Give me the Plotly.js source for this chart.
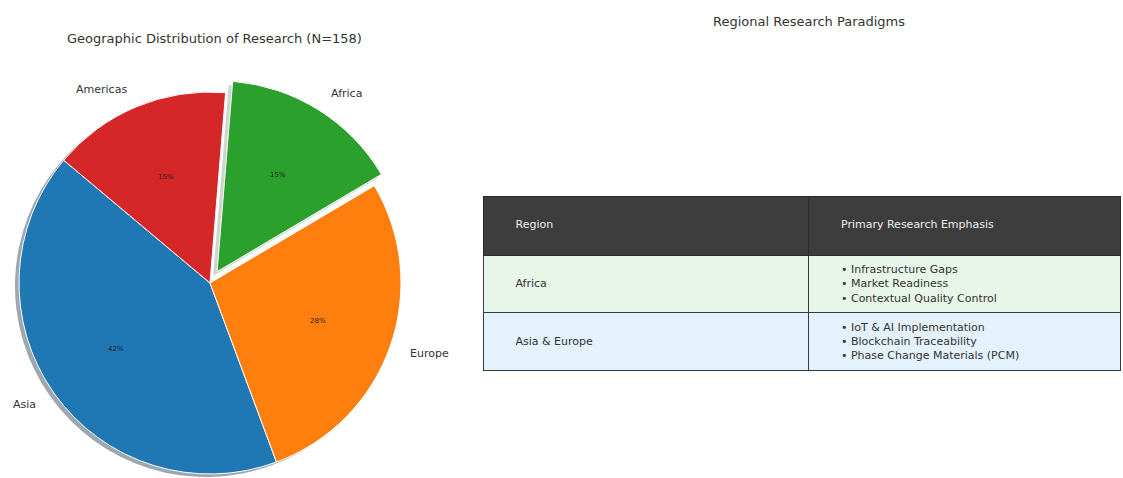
<!DOCTYPE html>
<html>
<head>
<meta charset="utf-8">
<script src="https://cdn.plot.ly/plotly-3.0.1.min.js"></script>
<style>html,body{margin:0;padding:0;background:#fff;}#chart{width:1123px;height:478px;}</style>
</head>
<body>
<div id="chart"></div>
<script>
// ---- data ----
const regions = ['Asia', 'Europe', 'Africa', 'Americas'];
const studies = [66, 44, 24, 24];
const sliceColors = ['#1f77b4', '#ff7f0e', '#2ca02c', '#d62728'];
const explodedRegion = 'Africa';
const pieTitle = 'Geographic Distribution of Research (N=158)';
const tableTitle = 'Regional Research Paradigms';
const tableHeaders = ['Region', 'Primary Research Emphasis'];
const tableRegions = ['Africa', 'Asia & Europe'];
const africaEmphasis = ['Infrastructure Gaps', 'Market Readiness', 'Contextual Quality Control'];
const asiaEuropeEmphasis = ['IoT & AI Implementation', 'Blockchain Traceability', 'Phase Change Materials (PCM)'];
const rowFills = ['#e8f5e9', '#e3f2fd'];

// ---- geometry ----
const W = 1123, H = 478;
const CX = 210, CY = 283, R = 191;
const START = 140;          // degrees CCW from 3 o'clock
const PULL = 0.07;
const SH = 4;               // shadow offset px
const FONT = 'DejaVu Sans, sans-serif';

const total = studies.reduce((a, b) => a + b, 0);
const mids = [];
let cum = 0;
studies.forEach(v => { mids.push(START + 360 * (cum + v / 2) / total); cum += v; });
const exIdx = regions.indexOf(explodedRegion);
const exMid = mids[exIdx] * Math.PI / 180;
const exDx = PULL * R * Math.cos(exMid), exDy = -PULL * R * Math.sin(exMid);
let rot = 90 - START - 360 * studies[0] / total;
while (rot < -360) rot += 360;
while (rot > 360) rot -= 360;

function dom(cx, cy) {
  return { x: [(cx - R) / W, (cx + R) / W], y: [Math.max(0, 1 - (cy + R) / H), 1 - (cy - R) / H] };
}
function shadowCol(hex, alpha) {
  const n = parseInt(hex.slice(1), 16);
  return 'rgba(' + Math.round(0.3 * (n >> 16)) + ',' + Math.round(0.3 * ((n >> 8) & 255)) + ',' + Math.round(0.3 * (n & 255)) + ',' + alpha + ')';
}
const T = 'rgba(0,0,0,0)';
function pieTrace(colors, lineW, d) {
  return {
    type: 'pie', labels: regions, values: studies, sort: false,
    direction: 'counterclockwise', rotation: rot,
    marker: { colors: colors, line: { color: '#ffffff', width: lineW } },
    textinfo: 'none', hoverinfo: 'label+percent', showlegend: false, domain: d
  };
}
const shadowMain = sliceColors.map((c, i) => i === exIdx ? T : shadowCol(c, 0.4));
const shadowEx = sliceColors.map((c, i) => i === exIdx ? shadowCol(c, 0.2) : T);
const colMain = sliceColors.map((c, i) => i === exIdx ? T : c);
const colEx = sliceColors.map((c, i) => i === exIdx ? c : T);
const lwMain = sliceColors.map((c, i) => i === exIdx ? 0 : 1);
const lwEx = sliceColors.map((c, i) => i === exIdx ? 1 : 0);

const traces = [
  pieTrace(shadowMain, 0, dom(CX - SH, CY + SH - 1)),
  pieTrace(shadowEx, 0, dom(CX - SH + exDx, CY + SH + exDy)),
  pieTrace(colMain, lwMain, dom(CX, CY)),
  pieTrace(colEx, lwEx, dom(CX + exDx, CY + exDy))
];

// ---- table ----
const NB = '\u00a0';
const PAD = NB.repeat(7);
function cellText(lines) {
  return lines.length === 1 ? NB + '<br>' + PAD + lines[0] : lines.map(l => PAD + '• ' + l).join('<br>');
}
traces.push({
  type: 'table',
  domain: { x: [483 / W, 1121 / W], y: [0, 1 - 196 / H] },
  columnwidth: [326, 312],
  header: {
    values: tableHeaders.map(h => [NB + '<br>' + PAD + h]),
    height: 59, align: 'left',
    fill: { color: '#3d3d3d' },
    line: { color: '#2b2b2b', width: 1 },
    font: { family: FONT, size: 11, color: '#eeeeee' }
  },
  cells: {
    values: [tableRegions.map(r => cellText([r])), [cellText(africaEmphasis), cellText(asiaEuropeEmphasis)]],
    height: 57, align: 'left',
    fill: { color: [rowFills, rowFills] },
    line: { color: '#3a3a3a', width: 1 },
    font: { family: FONT, size: 11, color: '#333333' }
  }
});

// ---- annotations ----
const ann = [];
regions.forEach((r, i) => {
  const a = mids[i] * Math.PI / 180;
  const ox = i === exIdx ? exDx : 0, oy = i === exIdx ? exDy : 0;
  const px = CX + ox + 0.6 * R * Math.cos(a), py = CY + oy - 0.6 * R * Math.sin(a);
  ann.push({ xref: 'paper', yref: 'paper', x: px / W, y: 1 - py / H, xanchor: 'center', yanchor: 'middle',
    text: Math.round(studies[i] / total * 100) + '%', showarrow: false, font: { family: FONT, size: 7, color: '#1a1a1a' } });
  const lx = CX + ox + 1.1 * R * Math.cos(a), ly = CY + oy - 1.1 * R * Math.sin(a);
  ann.push({ xref: 'paper', yref: 'paper', x: lx / W, y: 1 - ly / H, xanchor: Math.cos(a) < 0 ? 'right' : 'left', yanchor: 'middle',
    text: r, showarrow: false, font: { family: FONT, size: 11, color: '#333333' } });
});
ann.push({ xref: 'paper', yref: 'paper', x: 214 / W, y: 1 - 38 / H, xanchor: 'center', yanchor: 'middle',
  text: pieTitle, showarrow: false, font: { family: FONT, size: 13, color: '#333333' } });
ann.push({ xref: 'paper', yref: 'paper', x: 809 / W, y: 1 - 22 / H, xanchor: 'center', yanchor: 'middle',
  text: tableTitle, showarrow: false, font: { family: FONT, size: 13, color: '#333333' } });

Plotly.newPlot('chart', traces, {
  width: W, height: H, margin: { l: 0, r: 0, t: 0, b: 0 },
  paper_bgcolor: '#ffffff', plot_bgcolor: '#ffffff',
  annotations: ann, showlegend: false
}, { displayModeBar: false, staticPlot: true });
</script>
</body>
</html>
